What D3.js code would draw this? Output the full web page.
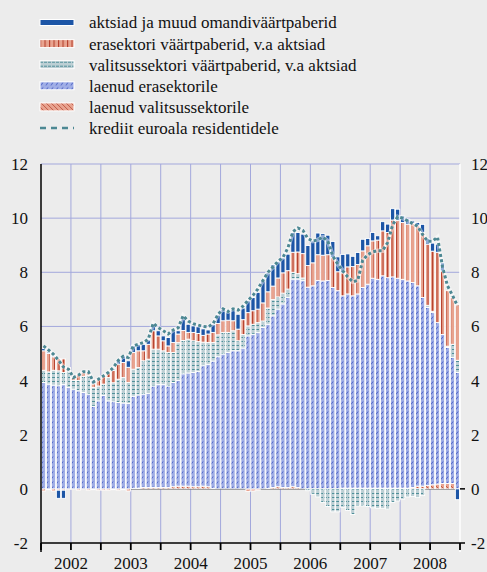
<!DOCTYPE html>
<meta charset="utf-8">
<style>
body { margin: 0; background: #ececec; }
svg { display: block; }
</style>
<svg width="487" height="572"></svg>
<script src="https://d3js.org/d3.v7.min.js"></script>
<script>
// monthly data, Jan 2002 .. Dec 2008 (percentage points)
var years = ["2002", "2003", "2004", "2005", "2006", "2007", "2008"];
var yTicks = [-2, 0, 2, 4, 6, 8, 10, 12];

var laenudVal = [-0.08,-0.03,-0.08,-0.05,-0.05,-0.02,-0.02,-0.05,-0.02,-0.05,-0.03,-0.05,
  -0.05,-0.05,-0.03,-0.05,-0.03,-0.08,0.02,0.03,0.05,0.05,0.05,0.05,
  0.05,0.05,0.08,0.10,0.10,0.10,0.08,0.08,0.10,0.08,0.02,0.00,
  0.00,0.00,0.00,0.00,0.00,-0.10,-0.08,-0.05,0.00,0.02,0.05,0.08,
  0.05,0.05,0.08,0.05,0.00,0.00,0.00,0.00,0.00,0.00,0.00,0.00,
  0.03,0.03,0.03,0.03,0.03,0.03,0.03,0.03,0.03,0.03,0.03,0.03,
  0.03,0.03,0.05,0.10,0.10,0.12,0.15,0.18,0.20,0.20,0.20,0.00];
var laenudEra = [3.93,3.87,3.83,3.81,3.85,3.74,3.68,3.62,3.56,3.50,3.05,3.25,
  3.45,3.25,3.22,3.19,3.17,3.15,3.40,3.44,3.45,3.47,3.75,3.80,
  3.80,3.75,3.85,3.90,4.15,4.18,4.22,4.25,4.45,4.52,4.70,4.88,
  4.98,5.04,5.10,5.10,5.20,5.65,5.71,5.77,5.96,6.06,6.34,6.56,
  6.78,7.02,7.67,7.70,7.69,7.45,7.50,7.70,7.68,7.70,7.44,7.32,
  7.10,7.17,7.10,7.17,7.41,7.53,7.75,7.71,7.84,7.77,7.80,7.75,
  7.71,7.65,7.57,7.40,6.97,6.58,6.36,5.96,5.50,5.02,4.65,4.30];
var vpVal = [0.45,0.45,0.55,0.55,0.45,0.62,0.32,0.38,0.60,0.70,0.70,0.55,
  0.42,0.86,0.70,0.86,0.94,0.78,1.00,1.01,1.23,1.27,1.36,1.31,
  1.25,1.24,1.11,1.40,1.23,1.25,1.17,1.11,0.87,0.81,0.69,0.81,
  0.80,0.74,0.74,0.37,0.50,0.37,0.37,0.37,0.24,0.60,0.60,0.45,
  0.40,0.31,0.25,0.20,0.10,-0.07,-0.20,-0.30,-0.50,-0.65,-0.85,-0.85,
  -0.68,-0.80,-0.95,-0.63,-0.63,-0.65,-0.70,-0.72,-0.72,-0.75,-0.50,-0.45,
  -0.38,-0.30,-0.28,-0.32,-0.25,0.08,0.05,0.00,0.00,0.05,0.49,0.45];
var vpEra = [0.72,0.68,0.50,0.45,0.50,0.12,0.12,0.22,0.15,0.10,0.13,0.25,
  0.30,0.19,0.45,0.56,0.56,0.56,0.62,0.62,0.37,0.55,0.68,0.49,
  0.37,0.24,0.37,0.32,0.37,0.25,0.31,0.30,0.25,0.31,0.37,0.42,
  0.43,0.45,0.37,0.43,0.55,0.49,0.50,0.50,0.67,0.60,0.50,0.70,
  0.75,0.68,0.74,0.80,0.90,0.80,0.85,0.95,0.95,0.95,1.10,0.70,
  0.85,1.00,1.08,1.09,1.35,1.42,1.38,1.45,1.66,1.67,2.10,2.14,
  2.10,2.10,2.18,2.22,2.40,2.26,2.22,2.60,2.35,2.05,1.73,2.07];
var aktsiad = [0.08,0.05,0.04,-0.30,-0.30,0.00,0.00,0.02,0.02,0.02,0.12,0.00,
  0.00,0.00,0.05,0.15,0.24,0.24,0.24,0.24,0.24,0.16,0.24,0.19,
  0.18,0.31,0.46,0.12,0.43,0.30,0.24,0.25,0.24,0.15,0.30,0.31,
  0.43,0.28,0.43,0.55,0.43,0.44,0.49,0.62,0.82,0.70,0.80,0.60,
  0.55,0.61,0.73,0.72,0.72,0.74,0.81,0.80,0.80,0.72,0.60,0.55,
  0.68,0.48,0.38,0.44,0.43,0.27,0.31,0.16,0.34,0.31,0.42,0.41,
  0.24,0.18,0.10,0.12,0.30,0.20,0.30,0.30,0.30,0.00,0.00,-0.40];
var krediit = [5.28,5.13,4.97,4.75,4.50,4.42,4.11,4.20,4.33,4.33,3.95,4.05,
  4.17,4.30,4.48,4.75,4.90,4.85,5.28,5.34,5.40,5.53,6.12,5.96,
  5.84,5.72,5.87,5.95,6.40,6.20,6.10,6.05,6.00,5.98,6.10,6.45,
  6.65,6.55,6.65,6.60,6.75,6.96,7.15,7.39,7.70,8.00,8.20,8.40,
  8.55,8.90,9.50,9.64,9.55,9.25,9.15,9.20,9.30,9.15,8.60,8.30,
  8.05,7.83,7.65,7.70,8.45,8.65,8.75,8.80,8.80,9.10,9.75,10.05,
  10.00,9.90,9.80,9.70,9.40,9.15,9.15,9.30,8.20,7.50,7.15,6.76];

var months = d3.range(laenudEra.length);

var svg = d3.select("svg");
var pLeft = 41, pRight = 460, pTop = 164, pBottom = 543;

var x = d3.scaleBand().domain(months).range([pLeft, pRight]).paddingInner(0.15).paddingOuter(0.08);
var xYear = d3.scaleLinear().domain([2002, 2009]).range([pLeft, pRight]);
var y = d3.scaleLinear().domain([-2, 12]).range([pBottom, pTop]);

// patterns
var defs = svg.append("defs");
function pat(id, w, h, bg) {
  var p = defs.append("pattern").attr("id", id).attr("patternUnits", "userSpaceOnUse")
    .attr("width", w).attr("height", h);
  p.append("rect").attr("width", w).attr("height", h).attr("fill", bg);
  return p;
}
pat("pEra", 4.5, 4, "#e8a38f").append("rect").attr("width", 1.1).attr("height", 4).attr("fill", "#b53f2c");
pat("pVal", 4, 4, "#bccfd4").append("rect").attr("y", 1).attr("width", 3).attr("height", 1).attr("fill", "#4f8f99");
var pLE = pat("pLE", 5, 5, "#a0aee6");
pLE.append("path").attr("d", "M1,4.5L3,1.5").attr("stroke", "#3f58bf").attr("stroke-width", 0.9);
pat("pLV", 5, 5, "#e8a390").append("path").attr("d", "M0,0L5,5").attr("stroke", "#c05a44").attr("stroke-width", 1);

var series = [
  {key: "laenudVal", values: laenudVal, fill: "url(#pLV)"},
  {key: "laenudEra", values: laenudEra, fill: "url(#pLE)"},
  {key: "vpVal", values: vpVal, fill: "url(#pVal)"},
  {key: "vpEra", values: vpEra, fill: "url(#pEra)"},
  {key: "aktsiad", values: aktsiad, fill: "#1c55a6"}
];
var table = months.map(function(i) {
  var row = {month: i};
  series.forEach(function(s) { row[s.key] = s.values[i]; });
  return row;
});
var stacked = d3.stack().keys(series.map(function(s) { return s.key; }))
  .offset(d3.stackOffsetDiverging)(table);

// grid
var grid = svg.append("g");
grid.selectAll("line.h").data(yTicks.filter(function(t) { return t > 0; }))
  .enter().append("line")
  .attr("x1", pLeft).attr("x2", pRight)
  .attr("y1", function(d) { return y(d); }).attr("y2", function(d) { return y(d); })
  .attr("stroke", "#a3a8dc").attr("stroke-width", 1);
grid.selectAll("line.v").data(d3.range(2002.5, 2009, 0.5))
  .enter().append("line")
  .attr("x1", function(d) { return xYear(d); }).attr("x2", function(d) { return xYear(d); })
  .attr("y1", pTop).attr("y2", pBottom)
  .attr("stroke", "#a3a8dc").attr("stroke-width", 1);

svg.append("line").attr("x1", pLeft).attr("x2", pRight)
  .attr("y1", y(0)).attr("y2", y(0)).attr("stroke", "#000").attr("stroke-width", 1.5);

// bars
svg.append("g").selectAll("g").data(stacked).enter().append("g")
  .attr("fill", function(d, i) { return series[i].fill; })
  .selectAll("rect").data(function(d) { return d; })
  .enter().append("rect")
  .attr("x", function(d) { return x(d.data.month); })
  .attr("width", x.bandwidth())
  .attr("y", function(d) { return y(Math.max(d[0], d[1])); })
  .attr("height", function(d) { return Math.abs(y(d[0]) - y(d[1])); })
  .attr("stroke", "#fff").attr("stroke-width", 0.9);

// line
var line = d3.line()
  .x(function(d, i) { return x(i) + x.bandwidth() / 2; })
  .y(function(d) { return y(d); });
svg.append("path").datum(krediit).attr("d", line)
  .attr("fill", "none").attr("stroke", "#fff").attr("stroke-width", 4.5).attr("opacity", 0.5);
svg.append("path").datum(krediit).attr("d", line)
  .attr("fill", "none").attr("stroke", "#4d8893").attr("stroke-width", 3)
  .attr("stroke-dasharray", "3,2.5");

// axes
svg.append("line").attr("x1", pLeft).attr("x2", pLeft).attr("y1", pTop).attr("y2", pBottom + 9)
  .attr("stroke", "#000").attr("stroke-width", 1.5);
svg.append("line").attr("x1", pRight).attr("x2", pRight).attr("y1", pTop).attr("y2", pBottom + 9)
  .attr("stroke", "#fff").attr("stroke-width", 1.5);
svg.append("line").attr("x1", pLeft).attr("x2", pRight).attr("y1", pBottom).attr("y2", pBottom)
  .attr("stroke", "#000").attr("stroke-width", 1.5);
svg.selectAll("line.xt").data(d3.range(2002, 2009.01, 0.5)).enter().append("line")
  .attr("x1", function(d) { return xYear(d); }).attr("x2", function(d) { return xYear(d); })
  .attr("y1", pBottom).attr("y2", pBottom + 7)
  .attr("stroke", "#000").attr("stroke-width", 1.8);
svg.selectAll("line.rt").data([-2, 0]).enter().append("line")
  .attr("x1", pRight).attr("x2", pRight + 5)
  .attr("y1", function(d) { return y(d); }).attr("y2", function(d) { return y(d); })
  .attr("stroke", "#000").attr("stroke-width", 1.5);

function label(sel) {
  return sel.attr("font-family", "Liberation Serif").attr("font-size", 17).attr("fill", "#111");
}
svg.append("g").selectAll("text").data(yTicks).enter().append("text")
  .call(label)
  .attr("x", 28).attr("y", function(d) { return y(d); }).attr("dy", "0.35em")
  .attr("text-anchor", "end")
  .text(function(d) { return d; });
svg.append("g").selectAll("text").data(yTicks).enter().append("text")
  .call(label)
  .attr("x", 471).attr("y", function(d) { return y(d); }).attr("dy", "0.35em")
  .attr("text-anchor", "start")
  .text(function(d) { return d; });
svg.append("g").selectAll("text").data(years).enter().append("text")
  .call(label)
  .attr("x", function(d) { return xYear(+d + 0.5); }).attr("y", 569)
  .attr("text-anchor", "middle")
  .text(function(d) { return d; });

// legend
var legendLabels = ["aktsiad ja muud omandiväärtpaberid", "erasektori väärtpaberid, v.a aktsiad",
  "valitsussektori väärtpaberid, v.a aktsiad", "laenud erasektorile",
  "laenud valitsussektorile", "krediit euroala residentidele"];
var legendFills = ["#1c55a6", "url(#pEra)", "url(#pVal)", "url(#pLE)", "url(#pLV)", null];
var leg = svg.append("g").selectAll("g").data(legendLabels).enter().append("g")
  .attr("transform", function(d, i) { return "translate(40," + (22.5 + i * 21.1) + ")"; });
leg.filter(function(d, i) { return legendFills[i]; }).append("rect")
  .attr("y", function(d, i) { return i === 0 ? -3 : -4; })
  .attr("width", 34).attr("height", function(d, i) { return i === 0 ? 6 : 8; })
  .attr("fill", function(d, i) { return legendFills[i]; })
  .attr("stroke", "#fff").attr("stroke-width", 1);
leg.filter(function(d, i) { return !legendFills[i]; }).append("line")
  .attr("x1", 0).attr("x2", 34).attr("stroke", "#4d8893").attr("stroke-width", 2.5)
  .attr("stroke-dasharray", "6,5");
leg.append("text").call(label).attr("x", 49).attr("dy", "0.35em")
  .text(function(d) { return d; });
</script>
